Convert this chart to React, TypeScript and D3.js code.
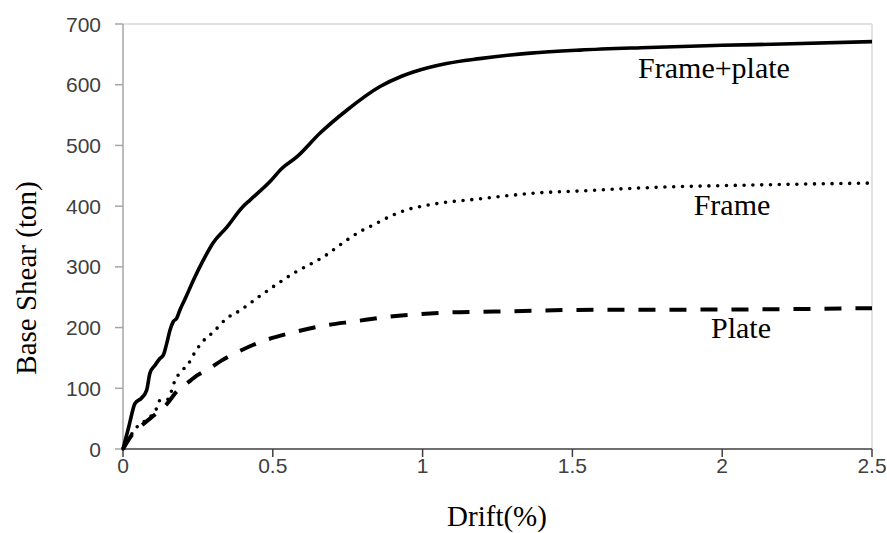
import React from "react";
import * as d3 from "d3";

const W = 887;
const H = 533;

const xTicks = [0, 0.5, 1, 1.5, 2, 2.5];
const xTickLabels = ["0", "0.5", "1", "1.5", "2", "2.5"];
const yTicks = [0, 100, 200, 300, 400, 500, 600, 700];

const framePlateDrift = [0, 0.02, 0.04, 0.062, 0.079, 0.09, 0.107, 0.123, 0.135, 0.146, 0.157, 0.168, 0.179, 0.19, 0.207, 0.235, 0.268, 0.3, 0.346, 0.4, 0.424, 0.49, 0.53, 0.58, 0.657, 0.747, 0.858, 0.93, 0.969, 1.08, 1.19, 1.36, 1.525, 1.73, 2.0, 2.2, 2.5];
const framePlateShear = [0, 38, 75, 84, 97, 125, 138, 149, 155, 174, 196, 210, 215, 229, 247, 278, 311, 339, 365, 399, 410, 440, 462, 481, 520, 558, 597, 614, 621, 635, 643, 652, 657, 661, 665, 667, 671];

const frameDrift = [0, 0.023, 0.046, 0.07, 0.09, 0.107, 0.123, 0.15, 0.163, 0.174, 0.19, 0.224, 0.235, 0.268, 0.3, 0.346, 0.39, 0.457, 0.568, 0.68, 0.724, 0.791, 0.835, 0.9, 0.947, 1.0, 1.058, 1.17, 1.28, 1.39, 1.525, 1.73, 2.126, 2.5];
const frameShear = [0, 20, 36, 45, 53, 61, 80, 82, 97, 114, 125, 145, 155, 178, 192, 215, 228, 252, 289, 320, 336, 358, 369, 385, 394, 400, 405, 411, 417, 422, 425, 430, 435, 438];

const plateDrift = [0, 0.034, 0.07, 0.11, 0.146, 0.18, 0.213, 0.25, 0.29, 0.33, 0.38, 0.457, 0.568, 0.68, 0.77, 0.89, 0.99, 1.09, 1.19, 1.3, 1.5, 2.126, 2.5];
const plateShear = [0, 26, 42, 58, 74, 95, 108, 122, 133, 146, 159, 176, 192, 204, 210, 218, 222, 225, 226, 227, 229, 230, 232];

const seriesLabels = ["Frame+plate", "Frame", "Plate"];

export default function App() {
  const left = 123, right = 872, top = 24, bottom = 449;
  const x = d3.scaleLinear().domain([0, 2.5]).range([left, right]);
  const y = d3.scaleLinear().domain([0, 700]).range([bottom, top]);
  const line = d3
    .line<[number, number]>()
    .x((d) => x(d[0]))
    .y((d) => y(d[1]))
    .curve(d3.curveMonotoneX);

  const fp = framePlateDrift.map((d, i) => [d, framePlateShear[i]] as [number, number]);
  const fr = frameDrift.map((d, i) => [d, frameShear[i]] as [number, number]);
  const pl = plateDrift.map((d, i) => [d, plateShear[i]] as [number, number]);

  const serif = "'Liberation Serif', 'Times New Roman', serif";
  const sans = "'Liberation Sans', Arial, sans-serif";

  return (
    <svg
      width={W}
      height={H}
      style={{ position: "absolute", left: 0, top: 0, background: "#fff" }}
    >
      <rect x={0} y={0} width={W} height={H} fill="#fff" />
      <line x1={left} x2={right} y1={top} y2={top} stroke="#d9d9d9" strokeWidth={1.5} />
      <line x1={right} x2={right} y1={top} y2={bottom} stroke="#d9d9d9" strokeWidth={1.5} />
      <line x1={left} x2={left} y1={top} y2={bottom} stroke="#a6a6a6" strokeWidth={1.5} />
      {yTicks.map((t) => (
        <g key={"y" + t}>
          <line x1={left - 8} x2={left} y1={y(t)} y2={y(t)} stroke="#a6a6a6" strokeWidth={1.5} />
          <text
            x={101}
            y={y(t)}
            dy="0.36em"
            textAnchor="end"
            fontFamily={sans}
            fontSize={21}
            fill="#404040"
          >
            {t}
          </text>
        </g>
      ))}
      <line x1={left} x2={right} y1={bottom} y2={bottom} stroke="#404040" strokeWidth={1.5} />
      {xTicks.map((t, i) => (
        <g key={"x" + t}>
          <line x1={x(t)} x2={x(t)} y1={bottom} y2={bottom + 8} stroke="#404040" strokeWidth={1.5} />
          <text
            x={x(t)}
            y={bottom + 16}
            dy="0.36em"
            textAnchor="middle"
            fontFamily={sans}
            fontSize={21}
            fill="#404040"
          >
            {xTickLabels[i]}
          </text>
        </g>
      ))}
      <path d={line(pl) || ""} fill="none" stroke="#000" strokeWidth={4} strokeDasharray="17,14" />
      <path d={line(fr) || ""} fill="none" stroke="#000" strokeWidth={3.6} strokeDasharray="0,8.8" strokeLinecap="round" />
      <path d={line(fp) || ""} fill="none" stroke="#000" strokeWidth={3.6} strokeLinejoin="round" />
      <text x={714} y={78} textAnchor="middle" fontFamily={serif} fontSize={30} fill="#000">
        {seriesLabels[0]}
      </text>
      <text x={732} y={215} textAnchor="middle" fontFamily={serif} fontSize={30} fill="#000">
        {seriesLabels[1]}
      </text>
      <text x={741} y={338} textAnchor="middle" fontFamily={serif} fontSize={30} fill="#000">
        {seriesLabels[2]}
      </text>
      <text x={497} y={526} textAnchor="middle" fontFamily={serif} fontSize={29} fill="#000">
        Drift(%)
      </text>
      <text
        transform={`translate(36,278) rotate(-90)`}
        textAnchor="middle"
        fontFamily={serif}
        fontSize={29}
        fill="#000"
      >
        Base Shear (ton)
      </text>
    </svg>
  );
}
